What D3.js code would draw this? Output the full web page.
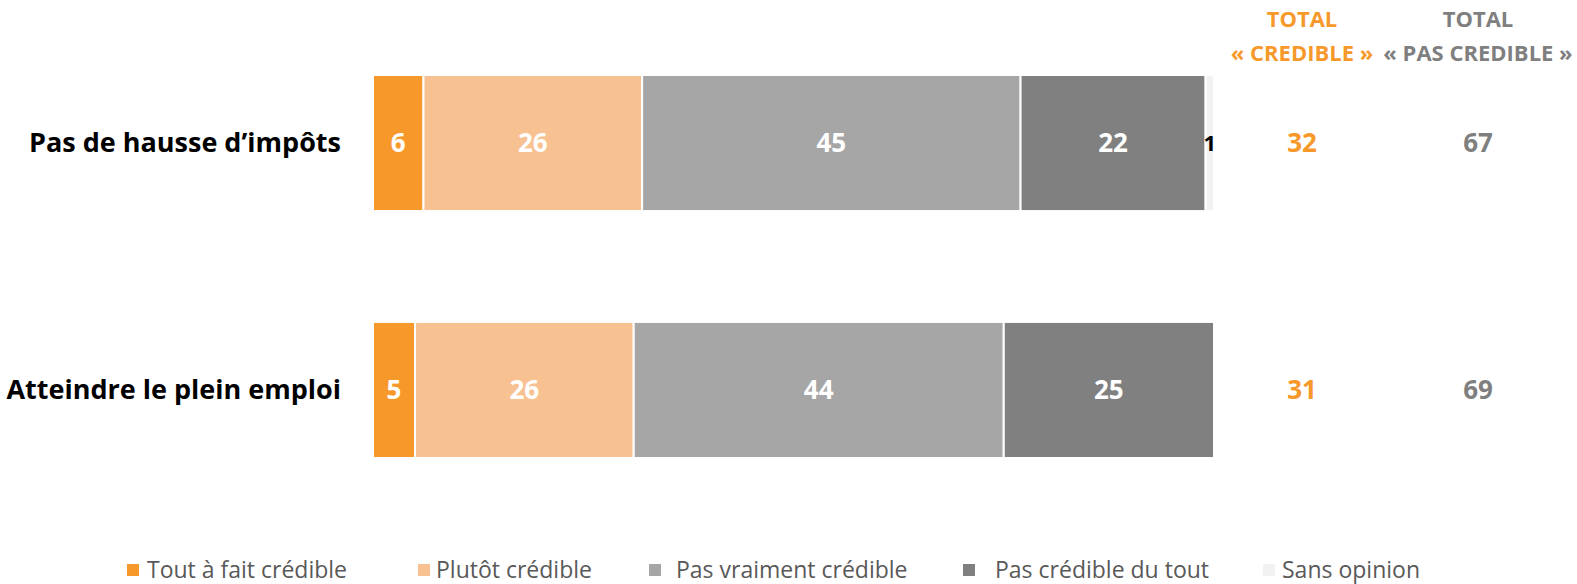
<!DOCTYPE html>
<html>
<head>
<meta charset="utf-8">
<script src="https://cdn.jsdelivr.net/npm/d3@7"></script>
<style>
  body { margin: 0; background: #fff; }
  text { font-family: "Open Sans", "DejaVu Sans", sans-serif; }
</style>
</head>
<body>
<div id="chart"></div>
<script>
// data
var categories = ["Pas de hausse d\u2019impôts", "Atteindre le plein emploi"];
var seriesNames = ["Tout à fait crédible", "Plutôt crédible", "Pas vraiment crédible", "Pas crédible du tout", "Sans opinion"];
var toutAFait = [6, 5];
var plutot = [26, 26];
var pasVraiment = [45, 44];
var pasDuTout = [22, 25];
var sansOpinion = [1, 0];
var totalCredible = [32, 31];
var totalPasCredible = [67, 69];

var colors = ["#F7992A", "#F8C192", "#A6A6A6", "#808080", "#F2F2F2"];
var labelColors = ["#fff", "#fff", "#fff", "#fff", "#000"];

var width = 1577, height = 584;

var svg = d3.select("#chart")
  .append("svg")
    .attr("width", width)
    .attr("height", height);

var xScale = d3.scaleLinear()
    .domain([0, 100])
    .range([373, 1214]);

var yScale = d3.scaleBand()
    .domain(categories)
    .range([75, 458])
    .paddingInner(0.449)
    .paddingOuter(0);

var series = [toutAFait, plutot, pasVraiment, pasDuTout, sansOpinion];

// build stacked rows
var rows = categories.map(function(c, i) {
  var x0 = 0;
  return series.map(function(s, k) {
    var seg = {cat: c, k: k, v: s[i], x0: x0, x1: x0 + s[i]};
    x0 += s[i];
    return seg;
  });
});

var segs = svg.append("g").selectAll("g")
  .data(rows)
  .enter().append("g");

segs.selectAll("rect")
  .data(function(d) { return d.filter(function(s) { return s.v > 0; }); })
  .enter().append("rect")
    .attr("x", function(d) { return xScale(d.x0); })
    .attr("width", function(d) { return xScale(d.x1) - xScale(d.x0); })
    .attr("y", function(d) { return yScale(d.cat); })
    .attr("height", yScale.bandwidth())
    .attr("fill", function(d) { return colors[d.k]; })
    .attr("stroke", "#fff")
    .attr("stroke-width", 2);

segs.selectAll("text")
  .data(function(d) { return d.filter(function(s) { return s.v > 0; }); })
  .enter().append("text")
    .attr("x", function(d) { return (xScale(d.x0) + xScale(d.x1)) / 2; })
    .attr("y", function(d) { return yScale(d.cat) + yScale.bandwidth() / 2; })
    .attr("dy", "0.36em")
    .attr("text-anchor", "middle")
    .attr("font-size", function(d) { return d.k == 4 ? 22 : 26; })
    .attr("font-weight", "bold")
    .attr("fill", function(d) { return labelColors[d.k]; })
    .text(function(d) { return d.v; });

// category labels
svg.append("g").selectAll("text")
  .data(categories)
  .enter().append("text")
    .attr("x", 341)
    .attr("y", function(d) { return yScale(d) + yScale.bandwidth() / 2 - 1; })
    .attr("dy", "0.36em")
    .attr("text-anchor", "end")
    .attr("font-size", 27)
    .attr("font-weight", "bold")
    .attr("fill", "#000")
    .text(function(d) { return d; });

// totals columns
var totals = [
  {x: 1302, color: "#F7992A", head: ["TOTAL", "« CREDIBLE »"], vals: totalCredible},
  {x: 1478, color: "#7F7F7F", head: ["TOTAL", "« PAS CREDIBLE »"], vals: totalPasCredible}
];

totals.forEach(function(t) {
  svg.append("g").selectAll("text.h")
    .data(t.head)
    .enter().append("text")
      .attr("x", t.x)
      .attr("y", function(d, i) { return 19 + i * 34; })
      .attr("dy", "0.36em")
      .attr("text-anchor", "middle")
      .attr("font-size", 22)
      .attr("font-weight", "bold")
      .attr("fill", t.color)
      .text(function(d) { return d; });

  svg.append("g").selectAll("text.v")
    .data(t.vals)
    .enter().append("text")
      .attr("x", t.x)
      .attr("y", function(d, i) { return yScale(categories[i]) + yScale.bandwidth() / 2; })
      .attr("dy", "0.36em")
      .attr("text-anchor", "middle")
      .attr("font-size", 26)
      .attr("font-weight", "bold")
      .attr("fill", t.color)
      .text(function(d) { return d; });
});

// legend
var legendX = [127, 418, 649, 963, 1263];
var legendTextX = [147, 436, 676, 995, 1282];

var legend = svg.append("g").selectAll("g")
  .data(seriesNames)
  .enter().append("g");

legend.append("rect")
    .attr("x", function(d, i) { return legendX[i]; })
    .attr("y", 564)
    .attr("width", 12)
    .attr("height", 12)
    .attr("fill", function(d, i) { return colors[i]; });

legend.append("text")
    .attr("x", function(d, i) { return legendTextX[i]; })
    .attr("y", 570)
    .attr("dy", "0.36em")
    .attr("font-size", 23)
    .attr("fill", "#595959")
    .text(function(d) { return d; });
</script>
</body>
</html>
